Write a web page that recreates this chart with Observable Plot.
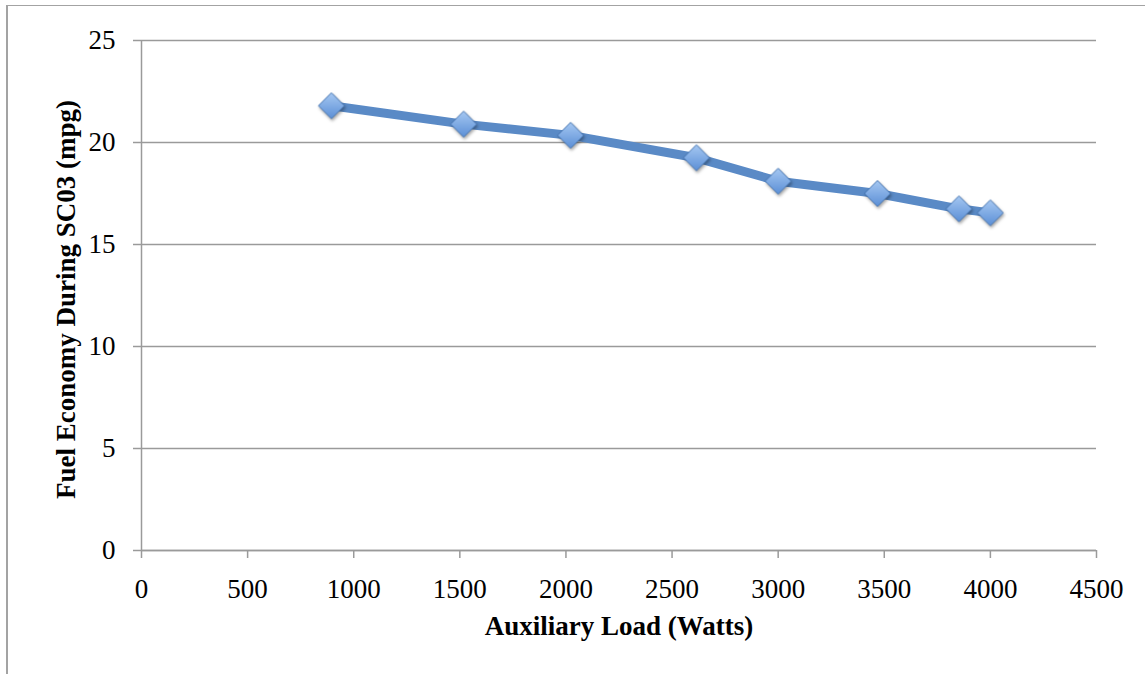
<!DOCTYPE html>
<html><head><meta charset="utf-8">
<script src="https://cdn.jsdelivr.net/npm/d3@7"></script>
<script src="https://cdn.jsdelivr.net/npm/@observablehq/plot@0.6"></script>
<style>
body{margin:0;background:#fff;}
#wrap{position:relative;width:1145px;height:674px;overflow:hidden;}
#frame{position:absolute;left:6px;top:5px;width:1200px;height:700px;border-left:2px solid #a3a3a3;border-top:1px solid #a3a3a3;}
#wrap svg{position:absolute;left:0;top:0;}
.pts{filter:drop-shadow(1px 2px 1.5px rgba(0,0,0,0.35));}
</style></head><body><div id="wrap"><div id="frame"></div></div>
<script>
const loadWatts = [895, 1518, 2022, 2615, 3000, 3468, 3852, 4000];
const fuelEconomy = [21.8, 20.9, 20.35, 19.25, 18.1, 17.5, 16.75, 16.55];
const xTicks = [0, 500, 1000, 1500, 2000, 2500, 3000, 3500, 4000, 4500];
const yTicks = [0, 5, 10, 15, 20, 25];
const xTitle = "Auxiliary Load (Watts)";
const yTitle = "Fuel Economy During SC03 (mpg)";

const data = loadWatts.map((x, i) => ({x, y: fuelEconomy[i]}));
const grid = "#9a9a9a";

const chart = Plot.plot({
  width: 1145, height: 674,
  marginLeft: 141, marginRight: 49, marginTop: 40, marginBottom: 124,
  style: {fontFamily: "'Liberation Serif', serif", fontSize: "27px", background: "transparent", color: "#000"},
  x: {domain: [0, 4500]},
  y: {domain: [0, 25]},
  marks: [
    Plot.gridY(yTicks, {stroke: grid, strokeOpacity: 1, strokeWidth: 1.3}),
    Plot.ruleX([0], {stroke: grid, strokeWidth: 1.5}),
    Plot.ruleY([0], {stroke: grid, strokeWidth: 1.5}),
    Plot.axisX(xTicks, {tickSize: 8, tickPadding: 20, stroke: grid, strokeWidth: 1.5, fill: "#000", label: null, tickFormat: d => String(d)}),
    Plot.axisY(yTicks, {tickSize: 8, tickPadding: 18, stroke: grid, strokeWidth: 1.5, fill: "#000", label: null, tickFormat: d => String(d)}),
    Plot.line(data, {x: "x", y: "y", stroke: "#5a8ac6", strokeWidth: 9, strokeLinejoin: "round"}),
    Plot.dot(data, {x: "x", y: "y", symbol: "diamond2", r: 11.7, fill: "#75a3dd", stroke: "#4877b3", strokeWidth: 1, className: "pts"}),
    Plot.text([xTitle], {frameAnchor: "bottom", dy: 76, textAnchor: "middle", lineAnchor: "middle", fontWeight: "bold", fontSize: 27, fill: "#000"}),
    Plot.text([yTitle], {frameAnchor: "left", dx: -75, dy: 4, rotate: -90, textAnchor: "middle", lineAnchor: "middle", fontWeight: "bold", fontSize: 27, fill: "#000"})
  ]
});

const svg = d3.select(chart);
const lg = svg.insert("defs", ":first-child").append("linearGradient")
  .attr("id", "dg").attr("x1", 0).attr("y1", 0).attr("x2", 0).attr("y2", 1);
lg.append("stop").attr("offset", "0%").attr("stop-color", "#a6c8f2");
lg.append("stop").attr("offset", "100%").attr("stop-color", "#5b8fd6");
svg.selectAll("g.pts path").attr("fill", "url(#dg)");

document.getElementById("wrap").appendChild(chart);
</script>
</body></html>
